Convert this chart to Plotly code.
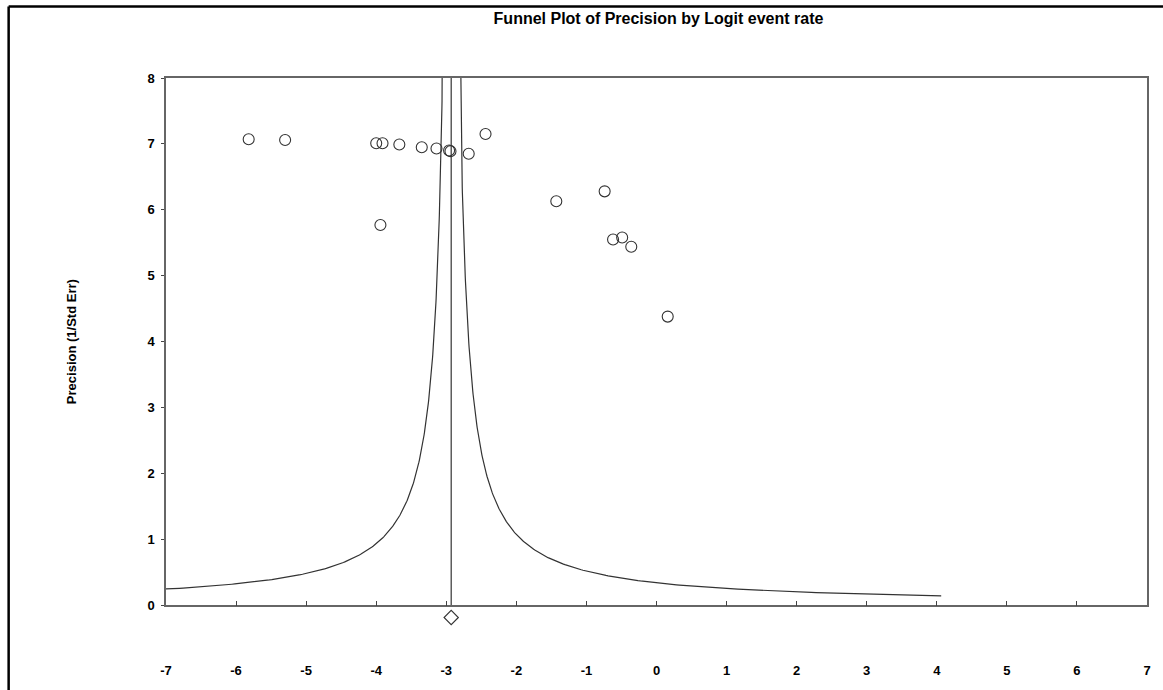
import numpy as np
import plotly.graph_objects as go

# Study points (logit event rate, precision)
logit_rate = [-5.82, -5.30, -4.00, -3.91, -3.67, -3.35, -3.14, -2.96, -2.94, -2.68,
              -2.44, -1.43, -0.74, -0.62, -0.49, -0.36, 0.16, -3.94]
precision = [7.07, 7.06, 7.01, 7.01, 6.99, 6.95, 6.93, 6.90, 6.89, 6.85,
             7.15, 6.13, 6.28, 5.55, 5.58, 5.44, 4.38, 5.77]

# Combined estimate and funnel half-width constant
combined_estimate = -2.93
funnel_k = 1.0
min_precision = 0.143
max_precision = 30.0

x_ticks = [-7, -6, -5, -4, -3, -2, -1, 0, 1, 2, 3, 4, 5, 6, 7]
y_ticks = [0, 1, 2, 3, 4, 5, 6, 7, 8]

prec_grid = np.geomspace(min_precision, max_precision, 400)
left_limit = combined_estimate - funnel_k / prec_grid
right_limit = combined_estimate + funnel_k / prec_grid

line_col = "#333333"
fnt = "Arial, Liberation Sans, sans-serif"

W, H = 1163, 690
ML, MR, MT, MB = 166, 12, 78, 40
axis_bottom_px = 609
plot_h = H - MT - MB
main_bottom = (H - MB - axis_bottom_px) / plot_h

fig = go.Figure()
fig.add_trace(go.Scatter(x=left_limit, y=prec_grid, mode="lines",
                         line=dict(color=line_col, width=1.2), hoverinfo="skip"))
fig.add_trace(go.Scatter(x=right_limit, y=prec_grid, mode="lines",
                         line=dict(color=line_col, width=1.2), hoverinfo="skip"))
fig.add_trace(go.Scatter(x=[combined_estimate, combined_estimate], y=[0, 8], mode="lines",
                         line=dict(color=line_col, width=1.2), hoverinfo="skip"))
fig.add_trace(go.Scatter(x=logit_rate, y=precision, mode="markers",
                         marker=dict(symbol="circle-open", size=11,
                                     color=line_col, line=dict(width=1.1))))
# combined estimate diamond, in a thin strip below the main axis
fig.add_trace(go.Scatter(x=[combined_estimate], y=[0.7], mode="markers",
                         xaxis="x2", yaxis="y2",
                         marker=dict(symbol="diamond-open", size=11,
                                     color=line_col, line=dict(width=1.1))))

fig.update_layout(
    width=W, height=H,
    margin=dict(l=ML, r=MR, t=MT, b=MB),
    paper_bgcolor="white", plot_bgcolor="white",
    showlegend=False,
    font=dict(family=fnt, color="black"),
    title=dict(text="<b>Funnel Plot of Precision by Logit event rate</b>",
               x=(166 + 1151) / 2 / W, xanchor="center",
               y=1 - 18 / H, yanchor="middle",
               font=dict(size=16, family=fnt, color="black")),
    xaxis=dict(range=[-7, 7], tickvals=x_ticks, ticktext=[str(v) for v in x_ticks],
               domain=[0, 1], anchor="y",
               showgrid=False, zeroline=False, showline=True, mirror=True,
               linecolor="#666666", linewidth=1.5,
               ticks="inside", ticklen=5, tickcolor="#444444",
               ticklabelstandoff=52,
               tickfont=dict(size=13, family=fnt, color="black", weight="bold")),
    yaxis=dict(range=[0, 8], tickvals=y_ticks, ticktext=[str(v) for v in y_ticks],
               domain=[main_bottom, 1], anchor="x",
               showgrid=False, zeroline=False, showline=True, mirror=True,
               linecolor="#666666", linewidth=1.5,
               ticks="outside", ticklen=3, tickcolor="#444444",
               ticklabelstandoff=4,
               title=dict(text="<b>Precision (1/Std Err)</b>", standoff=68,
                          font=dict(size=13, family=fnt, color="black")),
               tickfont=dict(size=13, family=fnt, color="black", weight="bold")),
    xaxis2=dict(range=[-7, 7], domain=[0, 1], anchor="y2", visible=False),
    yaxis2=dict(range=[0, 1], domain=[0, main_bottom], anchor="x2", visible=False),
)

# outer frame (left and top edges visible, extends past the window)
plot_w = W - ML - MR
fx = (8 - ML) / plot_w
fy = 1 + (MT - 6) / plot_h
fig.add_shape(type="line", xref="paper", yref="paper",
              x0=fx, x1=1.2, y0=fy, y1=fy,
              line=dict(color="black", width=2.5), layer="above")
fig.add_shape(type="line", xref="paper", yref="paper",
              x0=fx, x1=fx, y0=-0.3, y1=fy,
              line=dict(color="black", width=2.5), layer="above")

fig.write_html("out.html", config={"displayModeBar": False},
               post_script="document.body.style.margin='0';document.body.style.overflow='hidden';")
